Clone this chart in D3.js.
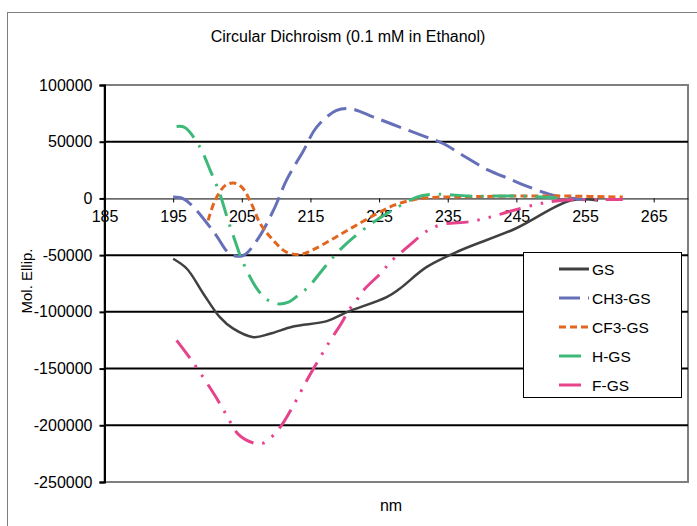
<!DOCTYPE html>
<html>
<head>
<meta charset="utf-8">
<script src="https://cdn.jsdelivr.net/npm/d3@7"></script>
<style>
  body { margin: 0; background: #fff; }
  svg { display: block; font-family: "Liberation Sans", Arial, sans-serif; }
</style>
</head>
<body>
<svg id="chart" width="697" height="526"></svg>
<script>
// values (nm, mol. ellipticity)
const gsNm  = [195, 197, 199.4, 201.8, 203.7, 206.7, 209.1, 212.5, 217.4, 220.3, 226.1, 228, 231.9, 236.8, 244.9, 252.9, 256.9];
const gsVal = [-53200, -62000, -84000, -104700, -114600, -122300, -119300, -112900, -108200, -100300, -87000, -79600, -60600, -45900, -26500, -1800, -1800];

const ch3Nm  = [195, 196.5, 198.2, 201.1, 203.3, 205.2, 207.2, 209.6, 211.5, 214, 215.9, 218.8, 220.8, 224.2, 228, 231.9, 234.4, 236.8, 241, 244, 246.4, 249.9, 252.4, 254.8];
const ch3Val = [1200, -300, -9100, -31100, -49000, -50300, -37000, -10600, 15900, 42300, 62900, 77600, 79100, 71700, 62900, 54100, 48200, 39400, 24700, 17200, 11100, 3600, 600, -900];

const cf3Nm  = [200.1, 201.1, 202.6, 203.8, 205, 206.4, 207.7, 209.6, 211.5, 213.5, 215.4, 218.3, 221.2, 224.2, 227.1, 230, 233.4, 236.8, 245, 252, 260.5];
const cf3Val = [-19400, -1800, 11500, 13500, 10000, -4700, -22300, -37000, -47300, -49400, -45200, -35500, -25300, -15000, -6200, -1200, 1100, 1400, 2100, 2100, 1200];

const hNm  = [195.5, 196.7, 198.9, 200.4, 201.8, 203, 204, 204.7, 205.5, 207.2, 208.5, 210.1, 211.8, 213.5, 214.8, 216.1, 218.3, 219.7, 221.2, 224.2, 227.3, 230.5, 232.5, 234.5, 238, 242, 245.5, 250.4, 252.9];
const hVal = [63500, 62500, 45200, 24700, 4100, -19400, -37000, -49400, -60600, -79600, -88400, -92900, -91400, -84000, -77600, -67900, -51800, -42900, -34700, -20900, -9100, 1100, 3600, 3600, 2100, 2100, 2100, 600, -900];

const fNm  = [195.5, 197.7, 201, 202.8, 204.5, 206.8, 208.1, 209.8, 211, 212, 213, 214.6, 217.6, 219.6, 220.5, 221.7, 222.8, 225.4, 226.6, 228.1, 229.5, 231.9, 234.1, 238.2, 241.5, 243.7, 247.9, 251.4, 257.3, 260.5];
const fVal = [-125200, -142900, -172800, -191300, -208000, -215800, -215800, -207500, -198100, -188100, -177200, -159000, -128100, -109100, -99400, -89900, -80500, -65000, -56200, -48200, -41000, -29000, -23000, -20500, -15900, -12000, -5300, -1800, -1000, -1000];

const seriesNames  = ["GS", "CH3-GS", "CF3-GS", "H-GS", "F-GS"];
const seriesColors = ["#404040", "#6670b8", "#e2661f", "#3cb878", "#e6438d"];
const seriesDash   = [null, "21,8", "7,4", "22,9,2.5,9", "22,9,2.5,9,2.5,9"];
const seriesX = [gsNm, ch3Nm, cf3Nm, hNm, fNm];
const seriesY = [gsVal, ch3Val, cf3Val, hVal, fVal];

const xTicks = [185, 195, 205, 215, 225, 235, 245, 255, 265];
const yTicks = [100000, 50000, 0, -50000, -100000, -150000, -200000, -250000];

const svg = d3.select("#chart");
const plot = { left: 104.5, right: 688, top: 85, bottom: 482 };

const x = d3.scaleLinear().domain([185, 270]).range([plot.left, plot.right]);
const y = d3.scaleLinear().domain([-250000, 100000]).range([plot.bottom, plot.top]);

// outer chart frame
svg.append("rect")
  .attr("x", 7.5).attr("y", 12.5)
  .attr("width", 720).attr("height", 600)
  .attr("fill", "#fff").attr("stroke", "#7f7f7f").attr("stroke-width", 1);

svg.append("text")
  .attr("x", 348).attr("y", 42)
  .attr("text-anchor", "middle")
  .attr("font-size", 16)
  .text("Circular Dichroism (0.1 mM in Ethanol)");

// plot border (top / right / bottom)
svg.append("rect")
  .attr("x", plot.left).attr("y", plot.top)
  .attr("width", plot.right - plot.left).attr("height", plot.bottom - plot.top)
  .attr("fill", "none").attr("stroke", "#7f7f7f").attr("stroke-width", 2);

// major gridlines
svg.append("g")
  .selectAll("line")
  .data(yTicks.filter((v) => v !== 0 && v !== 100000 && v !== -250000))
  .join("line")
  .attr("x1", plot.left).attr("x2", plot.right)
  .attr("y1", (d) => y(d)).attr("y2", (d) => y(d))
  .attr("stroke", "#000").attr("stroke-width", 2);

// y axis
const yAxis = svg.append("g")
  .attr("transform", `translate(${plot.left},0)`)
  .call(d3.axisLeft(y).tickValues(yTicks).tickSize(5).tickPadding(7).tickFormat((d) => d));
yAxis.select(".domain").attr("stroke", "#000").attr("stroke-width", 2);
yAxis.selectAll(".tick line").attr("stroke", "#000").attr("stroke-width", 2);
yAxis.selectAll("text").attr("font-size", 16).attr("fill", "#000")
  .attr("font-family", "Liberation Sans, Arial, sans-serif");

// x axis along zero
const xAxis = svg.append("g")
  .attr("transform", `translate(0,${y(0)})`)
  .call(d3.axisBottom(x).tickValues(xTicks).tickSize(4).tickPadding(8).tickSizeOuter(0));
xAxis.select(".domain").attr("stroke", "#000").attr("stroke-width", 1);
xAxis.selectAll(".tick line").attr("stroke", "#000").attr("stroke-width", 1);
xAxis.selectAll("text").attr("font-size", 16).attr("fill", "#000")
  .attr("font-family", "Liberation Sans, Arial, sans-serif");

// series
const line = d3.line()
  .x((d) => x(d[0]))
  .y((d) => y(d[1]))
  .curve(d3.curveCatmullRom.alpha(0.5));

seriesNames.forEach((name, i) => {
  const pts = seriesX[i].map((v, j) => [v, seriesY[i][j]]);
  svg.append("path")
    .datum(pts)
    .attr("d", line)
    .attr("fill", "none")
    .attr("stroke", seriesColors[i])
    .attr("stroke-width", i === 0 ? 2.5 : 3)
    .attr("stroke-dasharray", seriesDash[i])
    .attr("stroke-linejoin", "round");
});

// axis titles
svg.append("text")
  .attr("transform", "translate(32,281) rotate(-90)")
  .attr("text-anchor", "middle")
  .attr("font-size", 15)
  .text("Mol. Ellip.");

svg.append("text")
  .attr("x", 391).attr("y", 511)
  .attr("text-anchor", "middle")
  .attr("font-size", 16)
  .text("nm");

// legend
const leg = svg.append("g");
leg.append("rect")
  .attr("x", 523.5).attr("y", 252.5)
  .attr("width", 158).attr("height", 145)
  .attr("fill", "#fff").attr("stroke", "#000").attr("stroke-width", 1);
seriesNames.forEach((name, i) => {
  const ly = 269 + i * 29;
  leg.append("line")
    .attr("x1", 559).attr("x2", 589)
    .attr("y1", ly).attr("y2", ly)
    .attr("stroke", seriesColors[i])
    .attr("stroke-width", 3)
    .attr("stroke-dasharray", seriesDash[i]);
  leg.append("text")
    .attr("x", 592).attr("y", ly + 5.5)
    .attr("font-size", 15.5)
    .text(name);
});
</script>
</body>
</html>
